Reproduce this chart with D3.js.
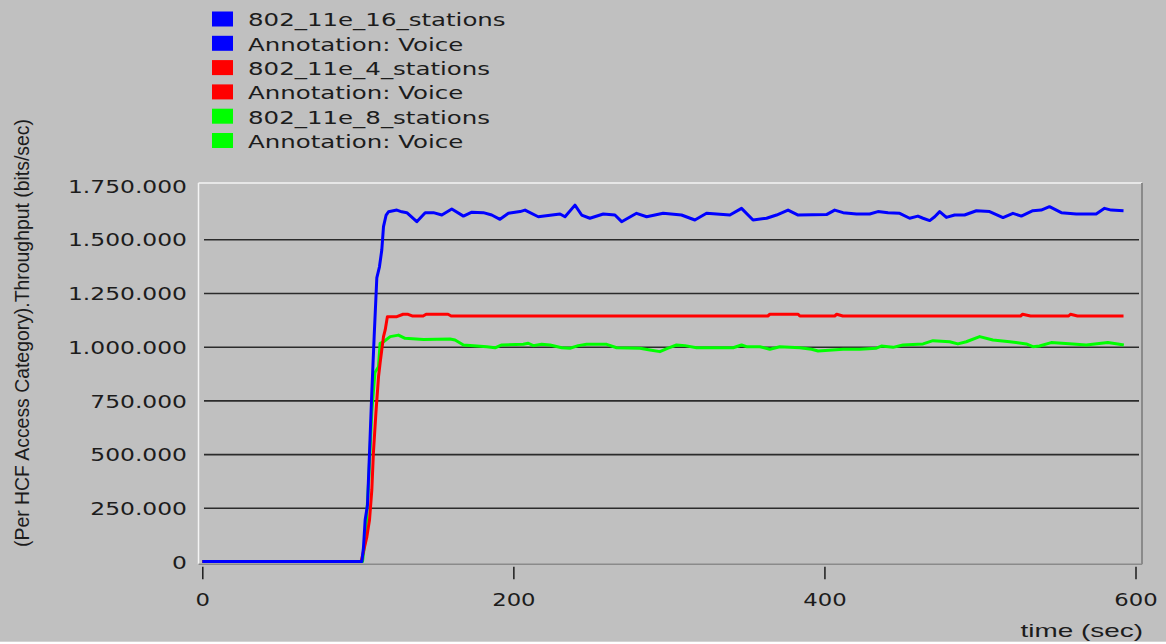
<!DOCTYPE html>
<html>
<head>
<meta charset="utf-8">
<script src="https://cdn.jsdelivr.net/npm/d3@7"></script>
<style>
  body { margin: 0; background: #ffffff; }
  svg { display: block; }
</style>
</head>
<body>
<svg id="chart" width="1166" height="644"></svg>
<script>
// ---- data -------------------------------------------------------------
const legendNames = [
  "802_11e_16_stations", "Annotation: Voice",
  "802_11e_4_stations", "Annotation: Voice",
  "802_11e_8_stations", "Annotation: Voice"
];
const legendColors = ["#0000ff", "#0000ff", "#ff0000", "#ff0000", "#00ff00", "#00ff00"];

const timeTicks = [0, 200, 400, 600];
const throughputTicks = [0, 250000, 500000, 750000, 1000000, 1250000, 1500000, 1750000];
const throughputLabels = ["0", "250.000", "500.000", "750.000", "1.000.000", "1.250.000", "1.500.000", "1.750.000"];

// [time (sec), throughput (bits/sec)]
const stations16 = [
  [0,0],[102.6,0],[103.6,63000],[104.7,193000],[106.2,263000],[107.5,505000],[109.0,790000],
  [110.5,1047000],[112.2,1320000],[113.9,1372000],[115.4,1450000],[116.5,1559000],[118.2,1613000],
  [119.7,1628000],[125.1,1636000],[128.3,1628000],[131.5,1624000],[137.9,1582000],[143.3,1624000],
  [148.6,1624000],[154.0,1613000],[160.4,1641000],[167.9,1608000],[173.3,1626000],[180.7,1624000],
  [186.1,1613000],[191.4,1593000],[196.8,1621000],[204.3,1629000],[207.5,1636000],[216.0,1605000],
  [230.0,1618000],[233.2,1605000],[239.6,1659000],[243.9,1613000],[249.2,1598000],[257.8,1618000],
  [265.3,1613000],[269.6,1582000],[279.2,1621000],[285.7,1605000],[296.3,1621000],[308.1,1613000],
  [316.7,1590000],[324.2,1621000],[339.2,1613000],[346.7,1644000],[354.1,1590000],[362.8,1598000],
  [369.2,1613000],[376.6,1636000],[383.1,1613000],[401.3,1615000],[406.6,1636000],[412.0,1624000],
  [420.6,1618000],[429.1,1618000],[434.4,1629000],[440.9,1624000],[448.4,1621000],[454.8,1598000],
  [460.1,1608000],[463.4,1598000],[467.7,1587000],[470.9,1605000],[474.1,1629000],[478.4,1602000],
  [483.7,1613000],[490.1,1613000],[497.7,1633000],[506.2,1629000],[514.8,1601000],[521.2,1621000],
  [526.6,1608000],[534.0,1633000],[539.4,1636000],[544.7,1652000],[552.3,1624000],[561.9,1618000],
  [574.7,1618000],[580.1,1644000],[584.4,1636000],[592.3,1633000]
];

const stations4 = [
  [0,0],[102.1,0],[103.6,46000],[105.8,115000],[107.5,193000],[109.0,333000],[110.0,504000],
  [111.6,690000],[113.3,860000],[114.3,923000],[115.4,985000],[116.5,1047000],[117.6,1078000],
  [119.0,1140000],[125.1,1140000],[129.1,1151000],[132.3,1151000],[134.9,1143000],[142.0,1143000],
  [143.9,1151000],[158.0,1151000],[160.0,1143000],[363.6,1143000],[364.9,1151000],[383.1,1151000],
  [384.2,1143000],[406.6,1143000],[407.9,1151000],[411.8,1143000],[526.1,1143000],[527.4,1151000],
  [532.5,1143000],[557.0,1143000],[558.2,1151000],[562.7,1143000],[592.3,1143000]
];

const stations8 = [
  [0,0],[103.0,0],[105.0,120000],[107.0,380000],[109.0,700000],[111.0,880000],[113.3,907000],
  [114.3,1016000],[116.5,1023000],[120.8,1047000],[126.1,1054000],[130.4,1039000],[142.2,1034000],
  [159.3,1036000],[162.5,1031000],[167.9,1008000],[182.9,1000000],[188.2,995000],[192.5,1008000],
  [206.4,1011000],[209.6,1016000],[212.8,1005000],[218.2,1011000],[223.6,1008000],[231.1,995000],
  [236.4,993000],[241.7,1005000],[247.1,1011000],[260.0,1011000],[266.4,995000],[281.4,993000],
  [287.8,985000],[294.2,977000],[299.5,993000],[304.9,1008000],[310.3,1005000],[317.8,995000],
  [341.3,995000],[346.7,1008000],[349.9,1000000],[358.5,1000000],[364.9,988000],[371.3,1000000],
  [384.2,995000],[391.7,988000],[395.9,980000],[412.0,988000],[422.7,988000],[433.4,993000],
  [436.6,1003000],[444.1,997000],[450.5,1008000],[463.4,1013000],[469.8,1028000],[480.5,1023000],
  [485.8,1013000],[491.2,1023000],[499.8,1047000],[508.3,1031000],[519.1,1023000],[529.8,1013000],
  [534.0,1000000],[538.3,1003000],[545.8,1019000],[559.7,1013000],[568.3,1008000],[582.2,1020000],
  [588.6,1013000],[592.5,1008000]
];

// ---- layout -------------------------------------------------------------
const svg = d3.select("#chart");
const W = 1166, H = 644;
const plot = { left: 198.5, top: 183, right: 1142, bottom: 564.3 };
const textColor = "#1c1c1c";
const wideFont = "DejaVu Sans, Verdana, sans-serif";
const stretch = 1.3;
const legendStretch = 1.36;

const x = d3.scaleLinear().domain([0, 600]).range([202.3, 1135.5]);
const y = d3.scaleLinear().domain([0, 1750000]).range([561.5, 185.6]);

// page background
svg.append("rect").attr("width", W).attr("height", H).attr("fill", "#ffffff");
svg.append("rect").attr("x", 0).attr("y", 0).attr("width", W).attr("height", 641.7).attr("fill", "#c0c0c0");

// plot frame
svg.append("line").attr("x1", plot.left).attr("x2", plot.right).attr("y1", plot.top).attr("y2", plot.top)
  .attr("stroke", "#f4f4f4").attr("stroke-width", 1.5);
svg.append("line").attr("x1", plot.left).attr("x2", plot.left).attr("y1", plot.top).attr("y2", plot.bottom)
  .attr("stroke", "#f4f4f4").attr("stroke-width", 1.5);
svg.append("line").attr("x1", plot.right).attr("x2", plot.right).attr("y1", plot.top).attr("y2", plot.bottom)
  .attr("stroke", "#8a8a8a").attr("stroke-width", 2);
svg.append("line").attr("x1", plot.left).attr("x2", plot.right).attr("y1", plot.bottom).attr("y2", plot.bottom)
  .attr("stroke", "#8a8a8a").attr("stroke-width", 1.5);

// horizontal grid lines
const grid = svg.append("g").attr("transform", "translate(204,0)")
  .call(d3.axisLeft(y)
    .tickValues(throughputTicks.filter(v => v > 0 && v < 1750000))
    .tickSize(-(1139 - 204)).tickFormat(""));
grid.select(".domain").remove();
grid.selectAll("line").attr("stroke", "#2b2b2b").attr("stroke-width", 1.6);

// y axis labels
const yAxis = svg.append("g").attr("transform", "translate(187,0)")
  .call(d3.axisLeft(y).tickValues(throughputTicks).tickSize(0).tickPadding(0)
    .tickFormat((d, i) => throughputLabels[i]));
yAxis.select(".domain").remove();
yAxis.selectAll("text")
  .attr("x", 0).attr("dy", null).attr("y", 6.6)
  .attr("transform", `scale(${stretch},1)`)
  .attr("fill", textColor).style("font-family", wideFont).style("font-size", "18px");

// x axis
const xAxis = svg.append("g").attr("transform", "translate(0,566.7)")
  .call(d3.axisBottom(x).tickValues(timeTicks).tickSizeInner(12.6).tickSizeOuter(0)
    .tickFormat(d3.format("d")));
xAxis.select(".domain").remove();
xAxis.selectAll("line").attr("stroke", "#1c1c1c").attr("stroke-width", 1.5);
xAxis.selectAll("text")
  .attr("y", 39.3).attr("dy", null)
  .attr("transform", `scale(${stretch},1)`)
  .attr("fill", textColor).style("font-family", wideFont).style("font-size", "17.5px");

// axis titles
svg.append("text")
  .attr("transform", "translate(29,333) rotate(-90)")
  .attr("text-anchor", "middle")
  .attr("fill", textColor)
  .style("font-family", "Liberation Sans, Arial, sans-serif").style("font-size", "19.4px")
  .text("(Per HCF Access Category).Throughput (bits/sec)");

svg.append("text")
  .attr("transform", "translate(1143,637) scale(1.55,1)")
  .attr("text-anchor", "end")
  .attr("fill", textColor)
  .style("font-family", "Liberation Sans, Arial, sans-serif").style("font-size", "18px")
  .text("time (sec)");

// series lines (16 stations drawn last, on top)
const line = d3.line().x(d => x(d[0])).y(d => y(d[1]));
const series = [
  { data: stations8, color: "#00ff00" },
  { data: stations4, color: "#ff0000" },
  { data: stations16, color: "#0000ff" }
];
svg.append("g").selectAll("path").data(series).join("path")
  .attr("d", d => line(d.data))
  .attr("fill", "none")
  .attr("stroke", d => d.color)
  .attr("stroke-width", 3)
  .attr("stroke-linejoin", "round");

// legend
const legend = svg.append("g");
const rows = legend.selectAll("g").data(legendNames).join("g")
  .attr("transform", (d, i) => `translate(0,${19 + i * 24.3})`);
rows.append("rect")
  .attr("x", 212).attr("y", -7.5).attr("width", 21).attr("height", 15)
  .attr("fill", (d, i) => legendColors[i]);
rows.append("text")
  .attr("transform", `translate(248,7.3) scale(${legendStretch},1)`)
  .attr("fill", textColor)
  .style("font-family", wideFont).style("font-size", "18px")
  .text(d => d);
</script>
</body>
</html>
